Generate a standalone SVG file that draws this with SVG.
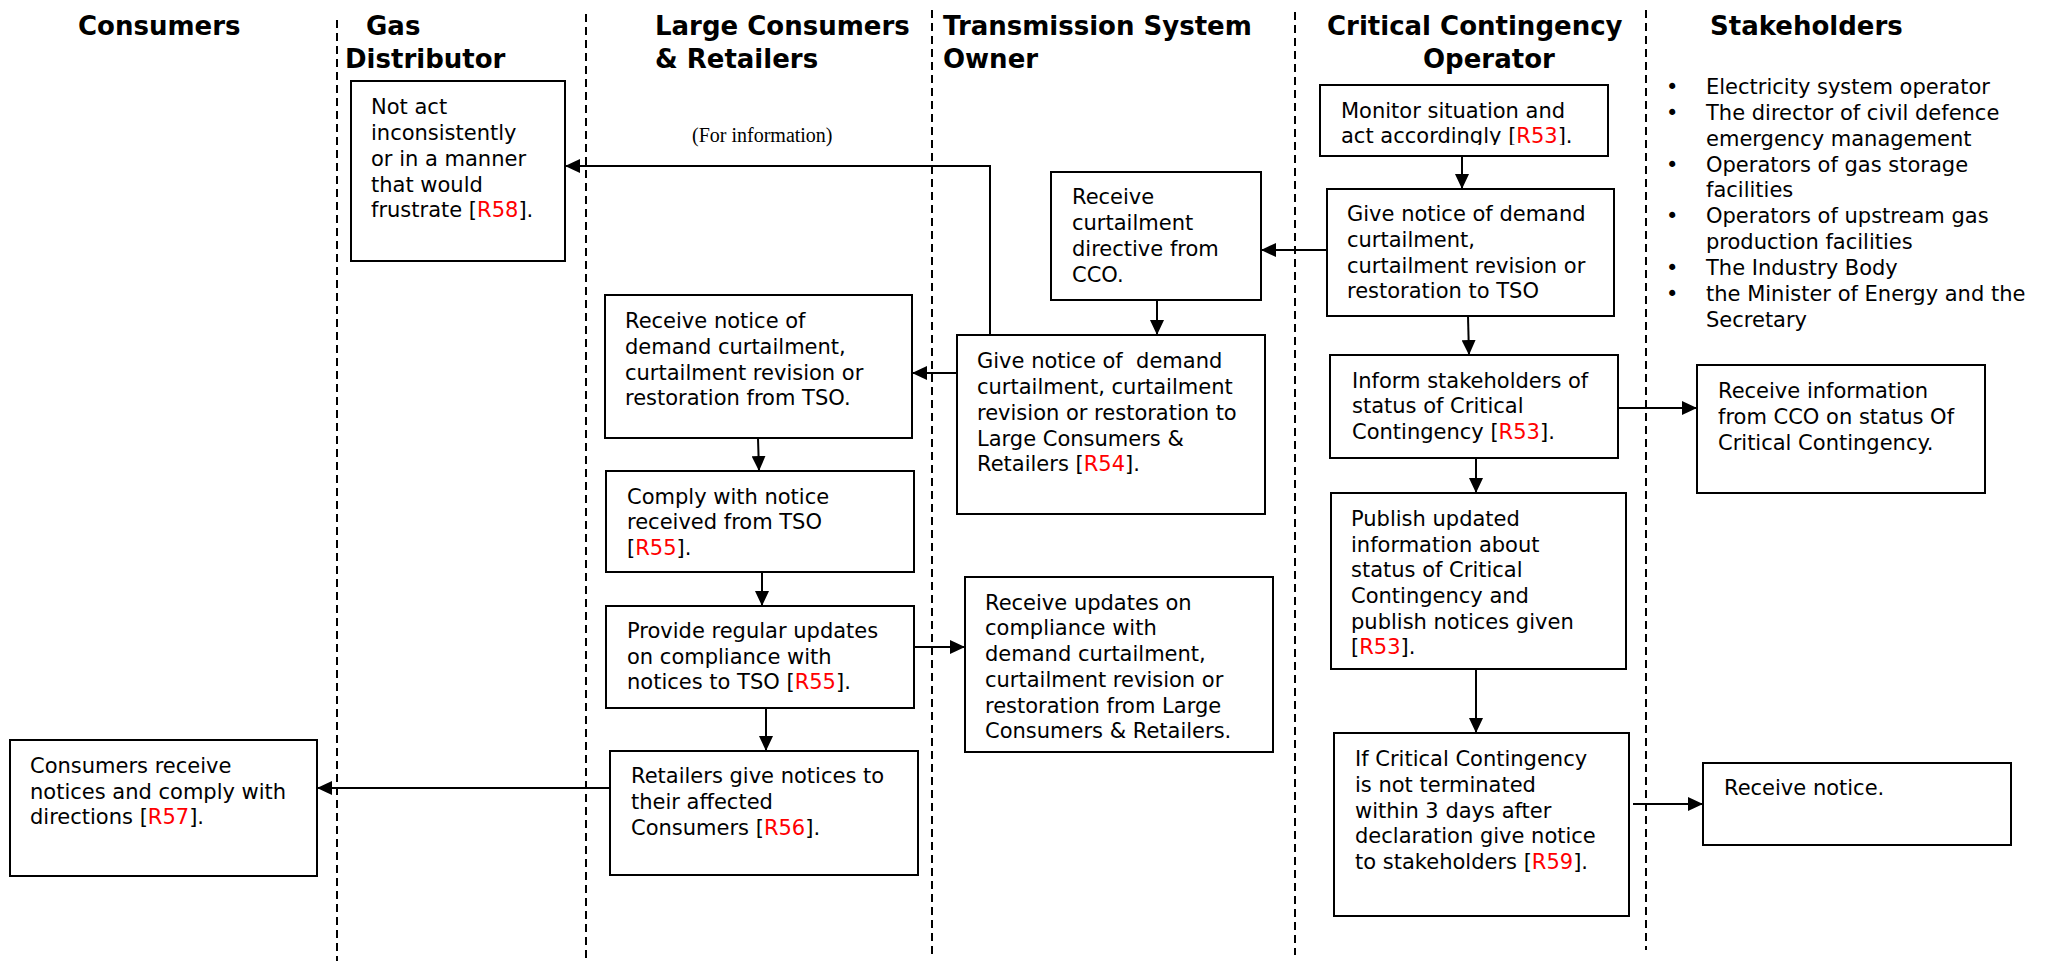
<svg xmlns="http://www.w3.org/2000/svg" width="2058" height="961" viewBox="0 0 2058 961">
<style>
.hd{font-family:"DejaVu Sans",Verdana,sans-serif;font-weight:bold;font-size:26px;fill:#000}
.t{font-family:"DejaVu Sans",Verdana,sans-serif;font-size:21px;fill:#000;white-space:pre}
.r{fill:#ff0000}
.box{fill:#fff;stroke:#000;stroke-width:2}
.lane{stroke:#000;stroke-width:2;stroke-dasharray:8 5;fill:none}
.c{stroke:#000;stroke-width:2;fill:none;marker-end:url(#ah)}
.note{font-family:"Liberation Serif","Times New Roman",serif;font-size:20px;fill:#000}
</style>
<defs>
<marker id="ah" markerUnits="userSpaceOnUse" markerWidth="15" markerHeight="14" refX="15" refY="7" orient="auto">
<path d="M0,0 L15,7 L0,14 z" fill="#000"/>
</marker>
<clipPath id="clipMon"><rect x="1320" y="85" width="290" height="60"/></clipPath>
</defs>
<rect width="2058" height="961" fill="#fff"/>

<g id="lanes">
<line class="lane" x1="337" y1="20" x2="337" y2="961"/>
<line class="lane" x1="586" y1="14" x2="586" y2="961"/>
<line class="lane" x1="932" y1="10" x2="932" y2="955"/>
<line class="lane" x1="1295" y1="12" x2="1295" y2="955"/>
<line class="lane" x1="1646" y1="10" x2="1646" y2="950"/>
</g>

<g id="headers">
<text class="hd" x="78" y="35">Consumers</text>
<text class="hd" x="366" y="35">Gas</text>
<text class="hd" x="345" y="68">Distributor</text>
<text class="hd" x="655" y="35">Large Consumers</text>
<text class="hd" x="655" y="68">&amp; Retailers</text>
<text class="hd" x="943" y="35">Transmission System</text>
<text class="hd" x="943" y="68">Owner</text>
<text class="hd" x="1327" y="35">Critical Contingency</text>
<text class="hd" x="1423" y="68">Operator</text>
<text class="hd" x="1710" y="35">Stakeholders</text>
</g>

<g id="stakeholder-list">
<text class="t" x="1666" y="94">•</text><text class="t" x="1706" y="94">Electricity system operator</text>
<text class="t" x="1666" y="120">•</text><text class="t" x="1706" y="120">The director of civil defence</text>
<text class="t" x="1706" y="146">emergency management</text>
<text class="t" x="1666" y="172">•</text><text class="t" x="1706" y="172">Operators of gas storage</text>
<text class="t" x="1706" y="197">facilities</text>
<text class="t" x="1666" y="223">•</text><text class="t" x="1706" y="223">Operators of upstream gas</text>
<text class="t" x="1706" y="249">production facilities</text>
<text class="t" x="1666" y="275">•</text><text class="t" x="1706" y="275">The Industry Body</text>
<text class="t" x="1666" y="301">•</text><text class="t" x="1706" y="301">the Minister of Energy and the</text>
<text class="t" x="1706" y="327">Secretary</text>
</g>

<g id="connectors">
<line class="c" x1="1462" y1="156" x2="1462" y2="189"/>
<line class="c" x1="1327" y1="250" x2="1261" y2="250"/>
<line class="c" x1="1157" y1="300" x2="1157" y2="335"/>
<line class="c" x1="957" y1="373" x2="912" y2="373"/>
<polyline class="c" points="990,335 990,166 565,166"/>
<line class="c" x1="758" y1="438" x2="759" y2="471"/>
<line class="c" x1="762" y1="572" x2="762" y2="606"/>
<line class="c" x1="914" y1="647" x2="965" y2="647"/>
<line class="c" x1="766" y1="708" x2="766" y2="751"/>
<line class="c" x1="613" y1="788" x2="317" y2="788"/>
<line class="c" x1="1468" y1="316" x2="1469" y2="355"/>
<line class="c" x1="1614" y1="408" x2="1697" y2="408"/>
<line class="c" x1="1476" y1="458" x2="1476" y2="493"/>
<line class="c" x1="1476" y1="669" x2="1476" y2="733"/>
<line class="c" x1="1633" y1="804" x2="1703" y2="804"/>
<text class="note" x="692" y="142">(For information)</text>
</g>

<g id="gas-distributor">
<rect class="box" x="351" y="81" width="214" height="180"/>
<text class="t" x="371" y="114">Not act</text>
<text class="t" x="371" y="140">inconsistently</text>
<text class="t" x="371" y="166">or in a manner</text>
<text class="t" x="371" y="192">that would</text>
<text class="t" x="371" y="217">frustrate [<tspan class="r">R58</tspan>].</text>
</g>

<g id="cco-monitor">
<rect class="box" x="1320" y="85" width="288" height="71"/>
<g clip-path="url(#clipMon)">
<text class="t" x="1341" y="118">Monitor situation and</text>
<text class="t" x="1341" y="143">act accordingly [<tspan class="r">R53</tspan>].</text>
</g>
</g>

<g id="cco-give-notice">
<rect class="box" x="1327" y="189" width="287" height="127"/>
<text class="t" x="1347" y="221">Give notice of demand</text>
<text class="t" x="1347" y="247">curtailment,</text>
<text class="t" x="1347" y="273">curtailment revision or</text>
<text class="t" x="1347" y="298">restoration to TSO</text>
</g>

<g id="cco-inform">
<rect class="box" x="1330" y="355" width="288" height="103"/>
<text class="t" x="1352" y="388">Inform stakeholders of</text>
<text class="t" x="1352" y="413">status of Critical</text>
<text class="t" x="1352" y="439">Contingency [<tspan class="r">R53</tspan>].</text>
</g>

<g id="stakeholders-receive-info">
<rect class="box" x="1697" y="365" width="288" height="128"/>
<text class="t" x="1718" y="398">Receive information</text>
<text class="t" x="1718" y="424">from CCO on status Of</text>
<text class="t" x="1718" y="450">Critical Contingency.</text>
</g>

<g id="tso-receive-directive">
<rect class="box" x="1051" y="172" width="210" height="128"/>
<text class="t" x="1072" y="204">Receive</text>
<text class="t" x="1072" y="230">curtailment</text>
<text class="t" x="1072" y="256">directive from</text>
<text class="t" x="1072" y="282">CCO.</text>
</g>

<g id="lcr-receive-notice">
<rect class="box" x="605" y="295" width="307" height="143"/>
<text class="t" x="625" y="328">Receive notice of</text>
<text class="t" x="625" y="354">demand curtailment,</text>
<text class="t" x="625" y="380">curtailment revision or</text>
<text class="t" x="625" y="405">restoration from TSO.</text>
</g>

<g id="tso-give-notice">
<rect class="box" x="957" y="335" width="308" height="179"/>
<text class="t" x="977" y="368">Give notice of  demand</text>
<text class="t" x="977" y="394">curtailment, curtailment</text>
<text class="t" x="977" y="420">revision or restoration to</text>
<text class="t" x="977" y="446">Large Consumers &amp;</text>
<text class="t" x="977" y="471">Retailers [<tspan class="r">R54</tspan>].</text>
</g>

<g id="lcr-comply">
<rect class="box" x="606" y="471" width="308" height="101"/>
<text class="t" x="627" y="504">Comply with notice</text>
<text class="t" x="627" y="529">received from TSO</text>
<text class="t" x="627" y="555">[<tspan class="r">R55</tspan>].</text>
</g>

<g id="lcr-provide-updates">
<rect class="box" x="606" y="606" width="308" height="102"/>
<text class="t" x="627" y="638">Provide regular updates</text>
<text class="t" x="627" y="664">on compliance with</text>
<text class="t" x="627" y="689">notices to TSO [<tspan class="r">R55</tspan>].</text>
</g>

<g id="tso-receive-updates">
<rect class="box" x="965" y="577" width="308" height="175"/>
<text class="t" x="985" y="610">Receive updates on</text>
<text class="t" x="985" y="635">compliance with</text>
<text class="t" x="985" y="661">demand curtailment,</text>
<text class="t" x="985" y="687">curtailment revision or</text>
<text class="t" x="985" y="713">restoration from Large</text>
<text class="t" x="985" y="738">Consumers &amp; Retailers.</text>
</g>

<g id="lcr-retailers-notices">
<rect class="box" x="610" y="751" width="308" height="124"/>
<text class="t" x="631" y="783">Retailers give notices to</text>
<text class="t" x="631" y="809">their affected</text>
<text class="t" x="631" y="835">Consumers [<tspan class="r">R56</tspan>].</text>
</g>

<g id="consumers-comply">
<rect class="box" x="10" y="740" width="307" height="136"/>
<text class="t" x="30" y="773">Consumers receive</text>
<text class="t" x="30" y="799">notices and comply with</text>
<text class="t" x="30" y="824">directions [<tspan class="r">R57</tspan>].</text>
</g>

<g id="cco-publish">
<rect class="box" x="1331" y="493" width="295" height="176"/>
<text class="t" x="1351" y="526">Publish updated</text>
<text class="t" x="1351" y="552">information about</text>
<text class="t" x="1351" y="577">status of Critical</text>
<text class="t" x="1351" y="603">Contingency and</text>
<text class="t" x="1351" y="629">publish notices given</text>
<text class="t" x="1351" y="654">[<tspan class="r">R53</tspan>].</text>
</g>

<g id="cco-not-terminated">
<rect class="box" x="1334" y="733" width="295" height="183"/>
<text class="t" x="1355" y="766">If Critical Contingency</text>
<text class="t" x="1355" y="792">is not terminated</text>
<text class="t" x="1355" y="818">within 3 days after</text>
<text class="t" x="1355" y="843">declaration give notice</text>
<text class="t" x="1355" y="869">to stakeholders [<tspan class="r">R59</tspan>].</text>
</g>

<g id="stakeholders-receive-notice">
<rect class="box" x="1703" y="763" width="308" height="82"/>
<text class="t" x="1724" y="795">Receive notice.</text>
</g>
</svg>
